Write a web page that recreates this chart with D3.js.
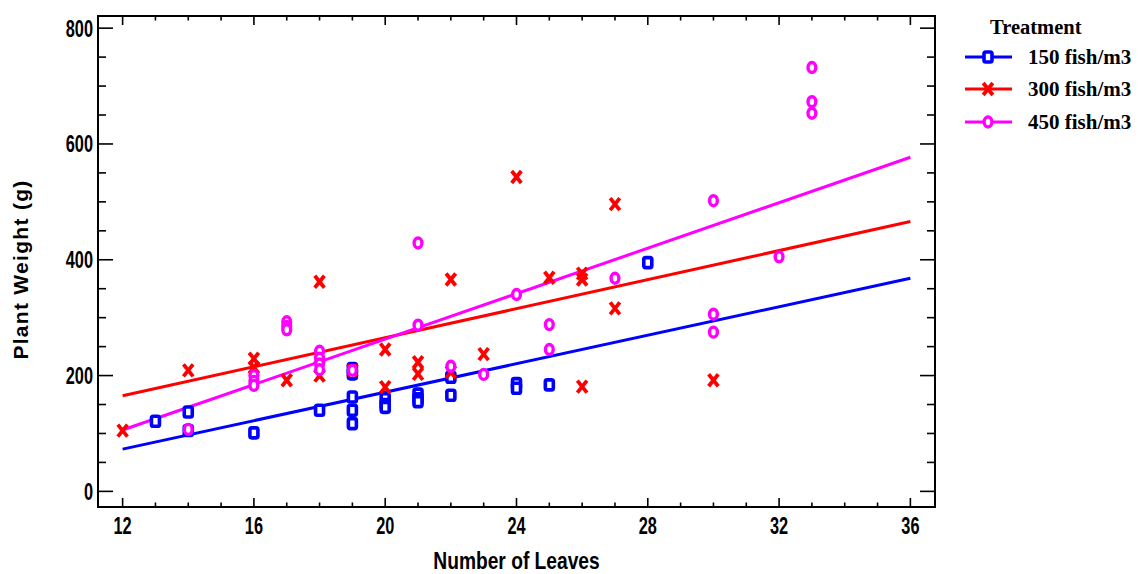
<!DOCTYPE html>
<html><head><meta charset="utf-8">
<script src="https://cdn.jsdelivr.net/npm/d3@7"></script>
<style>body{margin:0;background:#fff}svg{display:block}</style>
</head><body>
<svg id="c" width="1140" height="574"></svg>
<script>
// ---- data ----
const seriesNames = ["150 fish/m3", "300 fish/m3", "450 fish/m3"];
const seriesColors = ["#0000ff", "#ff0000", "#ff00ff"];
const leaves150 = [13,14,14,16,18,19,19,19,19,19,20,20,20,21,21,21,22,22,24,24,25,28];
const weight150 = [121,137,105,101,140,212,203,163,140,117,160,150,145,168,160,155,197,166,186,178,184,395];
const leaves300 = [12,14,16,16,17,18,18,18,19,20,20,21,21,22,22,23,24,25,26,26,26,27,27,30];
const weight300 = [105,209,229,214,192,362,215,200,209,245,180,223,203,366,206,237,543,369,376,366,181,496,316,192];
const leaves450 = [14,16,16,16,17,17,17,18,18,18,18,19,21,21,22,23,24,25,25,27,30,30,30,32,33,33,33];
const weight450 = [107,200,190,183,293,285,279,242,230,220,210,209,429,287,216,202,340,288,245,368,502,306,275,405,732,673,653];
// fitted lines: value at x=12 and at x=36
const fitX = [12, 36];
const fit150 = [73, 368];
const fit300 = [165, 466];
const fit450 = [106, 577];
const xTicks = [12,16,20,24,28,32,36];
const yTicks = [0,200,400,600,800];
const xTitle = "Number of Leaves";
const yTitle = "Plant Weight (g)";
const legendTitle = "Treatment";

const series = [
  {name: seriesNames[0], color: seriesColors[0], xs: leaves150, ys: weight150, fit: fit150, shape: "square"},
  {name: seriesNames[1], color: seriesColors[1], xs: leaves300, ys: weight300, fit: fit300, shape: "cross"},
  {name: seriesNames[2], color: seriesColors[2], xs: leaves450, ys: weight450, fit: fit450, shape: "circle"}
];

// ---- layout ----
const L = 98, R = 935, T = 16, B = 507;
const svg = d3.select("#c");
const x = d3.scaleLinear().domain([11.25, 36.75]).range([L, R]);
const y = d3.scaleLinear().domain([-27, 821]).range([B, T]);

const lineGen = d3.line().x(d => x(d[0])).y(d => y(d[1]));
series.forEach(s => {
  svg.append("path").attr("d", lineGen(fitX.map((v,i)=>[v, s.fit[i]])))
    .attr("fill","none").attr("stroke", s.color).attr("stroke-width", 3);
});

function marker(g, shape, color) {
  if (shape === "square") {
    g.append("rect").attr("x",-4).attr("y",-5).attr("width",8).attr("height",10).attr("rx",1.8)
      .attr("fill","#fff").attr("stroke",color).attr("stroke-width",3.6);
  } else if (shape === "cross") {
    g.append("path").attr("d","M-4.8,-6L4.8,6M4.8,-6L-4.8,6")
      .attr("stroke",color).attr("stroke-width",3.8).attr("fill","none");
  } else {
    g.append("ellipse").attr("rx",3.9).attr("ry",5)
      .attr("fill","#fff").attr("stroke",color).attr("stroke-width",3.4);
  }
}

series.forEach(s => {
  s.xs.forEach((v,i) => {
    const g = svg.append("g").attr("transform", `translate(${x(v)},${y(s.ys[i])})`);
    marker(g, s.shape, s.color);
  });
});

// frame
svg.append("rect").attr("x",L).attr("y",T).attr("width",R-L).attr("height",B-T)
  .attr("fill","none").attr("stroke","#000").attr("stroke-width",2);

// ticks
const tk = svg.append("g").attr("stroke","#000").attr("stroke-width",1.6);
d3.range(12, 37, 1).forEach(v => {
  const major = xTicks.includes(v);
  const len = major ? 9 : 4.5;
  tk.append("line").attr("x1",x(v)).attr("x2",x(v)).attr("y1",B).attr("y2",B-len);
  tk.append("line").attr("x1",x(v)).attr("x2",x(v)).attr("y1",T).attr("y2",T+len);
});
d3.range(0, 801, 50).forEach(v => {
  const major = yTicks.includes(v);
  const len = major ? 15 : 8;
  tk.append("line").attr("y1",y(v)).attr("y2",y(v)).attr("x1",L).attr("x2",L+len);
  tk.append("line").attr("y1",y(v)).attr("y2",y(v)).attr("x1",R).attr("x2",R-len);
});

// tick labels (condensed bold)
const cond = "Liberation Sans, Arial, sans-serif";
yTicks.forEach(v => {
  svg.append("text").attr("transform",`translate(93,${y(v)+8.5}) scale(0.68,1)`)
    .attr("text-anchor","end").attr("font-family",cond).attr("font-weight","bold")
    .attr("font-size",24).text(v);
});
xTicks.forEach(v => {
  svg.append("text").attr("transform",`translate(${x(v)},${534}) scale(0.68,1)`)
    .attr("text-anchor","middle").attr("font-family",cond).attr("font-weight","bold")
    .attr("font-size",24).text(v);
});
svg.append("text").attr("transform",`translate(${(L+R)/2},569) scale(0.8,1)`)
  .attr("text-anchor","middle").attr("font-family",cond).attr("font-weight","bold")
  .attr("font-size",24).text(xTitle);
svg.append("text").attr("transform",`translate(28,${(T+B)/2 + 8}) rotate(-90)`)
  .attr("text-anchor","middle").attr("font-family",cond).attr("font-weight","bold")
  .attr("font-size",21).attr("letter-spacing",1.3).text(yTitle);

// legend
const serif = "Liberation Serif, Times New Roman, serif";
svg.append("text").attr("x",990).attr("y",34).attr("font-family",serif).attr("font-weight","bold")
  .attr("font-size",20.5).text(legendTitle);
const legY = [57, 89, 122];
series.forEach((s,i) => {
  const g = svg.append("g");
  g.append("line").attr("x1",965).attr("x2",1012).attr("y1",legY[i]).attr("y2",legY[i])
    .attr("stroke",s.color).attr("stroke-width",3);
  const m = g.append("g").attr("transform",`translate(988,${legY[i]})`);
  marker(m, s.shape, s.color);
  g.append("text").attr("x",1028).attr("y",legY[i]+7).attr("font-family",serif).attr("font-weight","bold")
    .attr("font-size",21).text(s.name);
});
</script>
</body></html>
